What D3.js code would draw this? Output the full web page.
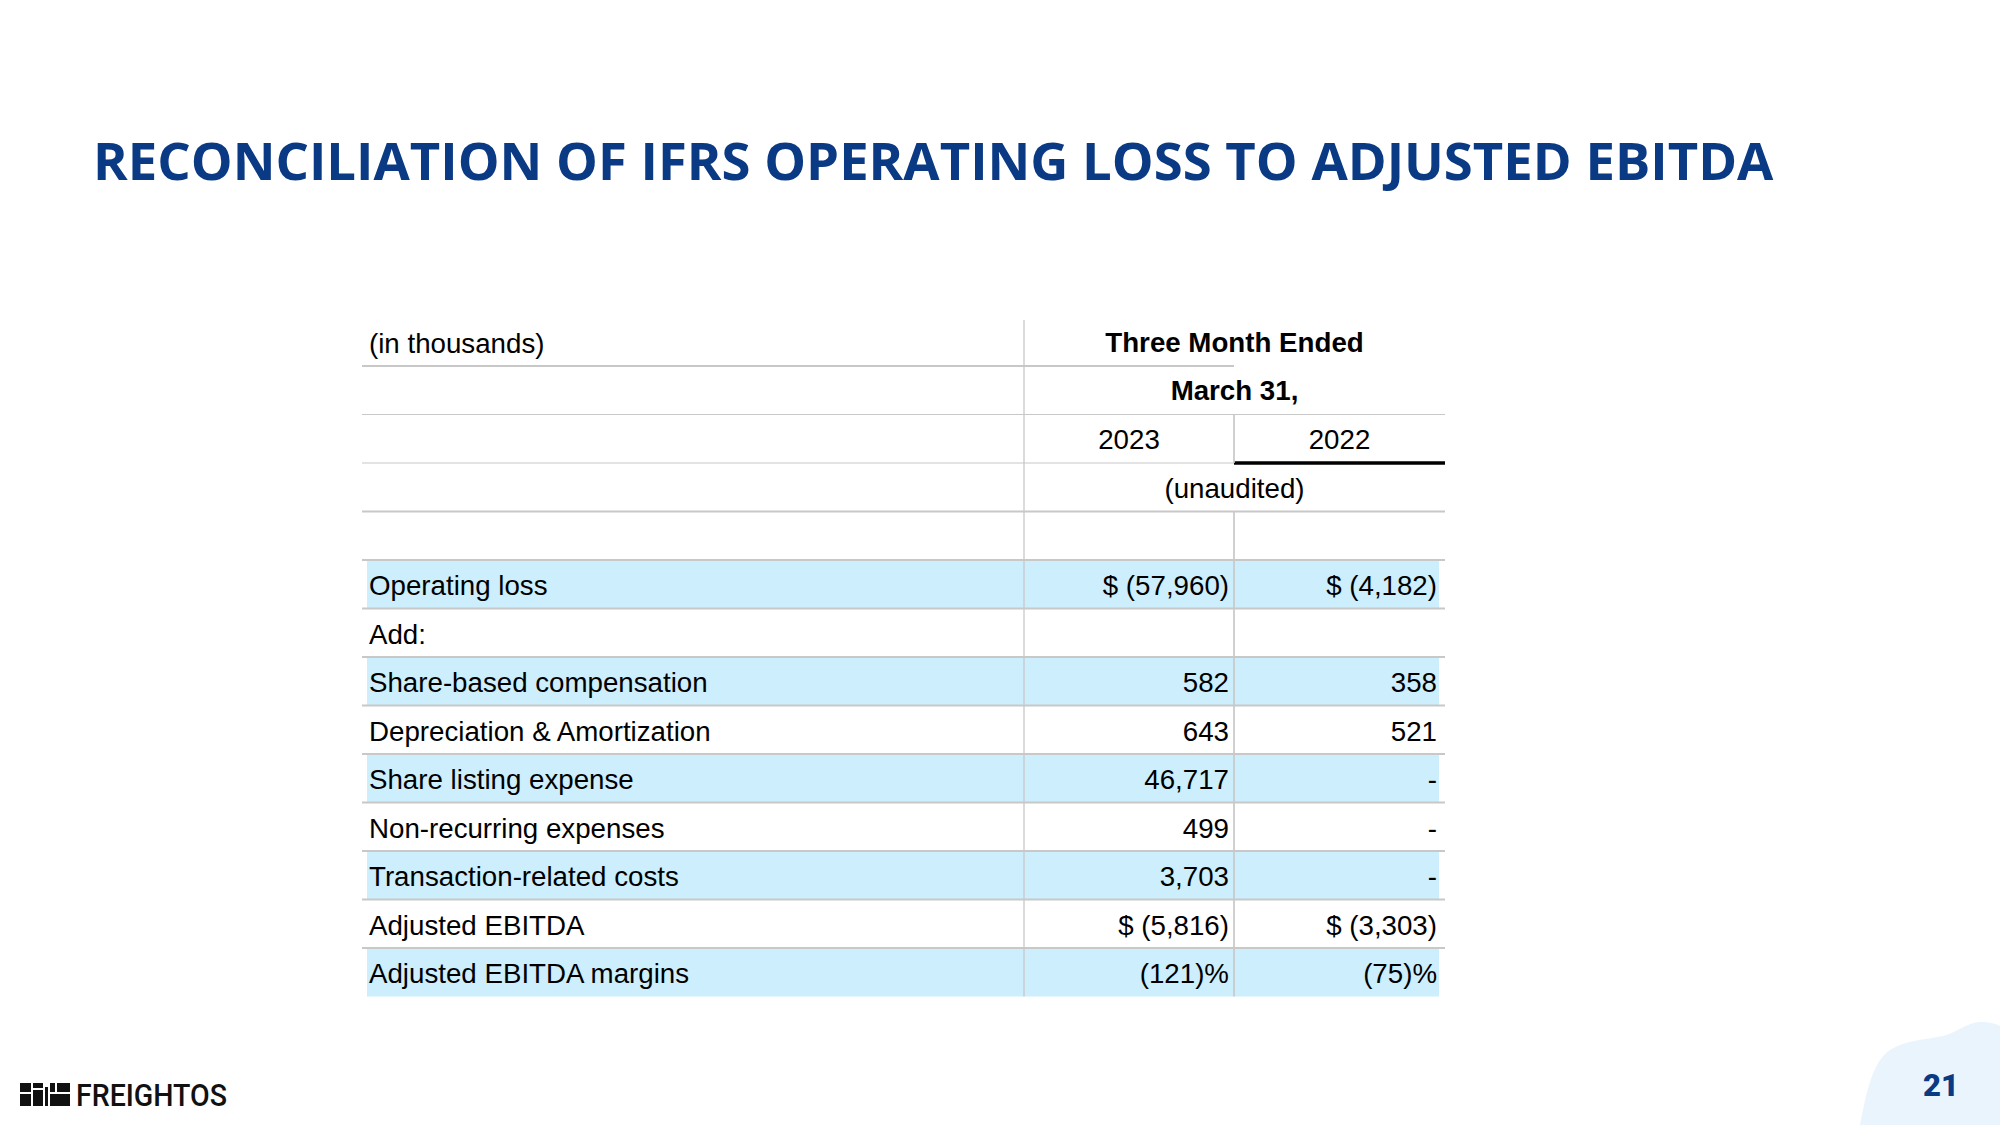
<!DOCTYPE html>
<html>
<head>
<meta charset="utf-8">
<script src="https://cdn.jsdelivr.net/npm/d3@7"></script>
<style>
  html, body { margin: 0; padding: 0; background: #ffffff; }
  svg { display: block; }
</style>
</head>
<body>
<svg id="chart" width="2000" height="1125"></svg>
<script>
// ---------- data ----------
const title = "RECONCILIATION OF IFRS OPERATING LOSS TO ADJUSTED EBITDA";
const unitLabel = "(in thousands)";
const periodHeader = ["Three Month Ended", "March 31,"];
const years = ["2023", "2022"];
const auditNote = "(unaudited)";
const items = [
  "Operating loss", "Add:", "Share-based compensation", "Depreciation & Amortization",
  "Share listing expense", "Non-recurring expenses", "Transaction-related costs",
  "Adjusted EBITDA", "Adjusted EBITDA margins"
];
const values2023 = ["$ (57,960)", "", "582", "643", "46,717", "499", "3,703", "$ (5,816)", "(121)%"];
const values2022 = ["$ (4,182)", "", "358", "521", "-", "-", "-", "$ (3,303)", "(75)%"];
const highlighted = [true, false, true, false, true, false, true, false, true];
const pageNumber = "21";
const brand = "FREIGHTOS";

// ---------- layout ----------
const svg = d3.select("#chart");
const W = 2000, H = 1125;
svg.append("rect").attr("width", W).attr("height", H).attr("fill", "#ffffff");

const headerRows = 5;
const nRows = headerRows + items.length;
const y = d3.scaleBand().domain(d3.range(nRows)).range([317.5, 996.5]).paddingInner(0).paddingOuter(0);
const colX = d3.scaleOrdinal().domain(["label", "c2023", "c2022", "end"]).range([362, 1024, 1234, 1445]);
const xL = colX("label"), x1 = colX("c2023"), x2 = colX("c2022"), xR = colX("end");
const rh = y.bandwidth();
const baseOff = 35;

const FONT = "'Liberation Sans', Arial, Helvetica, sans-serif";
const FS = 27.7;
const gridColor = "#c8c8c8";
const blue = "#cdeefd";

// title
const titleText = svg.append("text")
  .attr("x", 93).attr("y", 180)
  .attr("font-family", "'Open Sans', sans-serif")
  .attr("font-weight", 700)
  .attr("font-size", 56)
  .attr("fill", "#0b3a84")
  .text(title);
const tw = titleText.node().getComputedTextLength();
titleText.attr("font-size", 56 * 1681 / tw);

const table = svg.append("g");

// highlighted fills
const dataRows = items.map((d, i) => ({ label: d, v23: values2023[i], v22: values2022[i], hl: highlighted[i], row: headerRows + i }));
table.selectAll("rect.hl").data(dataRows.filter(d => d.hl)).join("rect")
  .attr("class", "hl")
  .attr("x", xL + 5).attr("width", (xR - 6) - (xL + 5))
  .attr("y", d => y(d.row)).attr("height", rh)
  .attr("fill", blue);

// horizontal lines
const hLines = [
  { r: 1, x0: xL, x1: x2, w: 2, c: gridColor },
  { r: 2, x0: xL, x1: xR, w: 1.2, c: gridColor },
  { r: 3, x0: xL, x1: x2, w: 1.2, c: gridColor },
  { r: 3, x0: x2, x1: xR, w: 3.5, c: "#000000" },
  { r: 4, x0: xL, x1: xR, w: 2, c: gridColor }
];
for (let r = 5; r <= nRows - 1; r++) hLines.push({ r: r, x0: xL, x1: xR, w: 1.8, c: gridColor });
table.selectAll("line.h").data(hLines).join("line")
  .attr("class", "h")
  .attr("x1", d => d.x0).attr("x2", d => d.x1)
  .attr("y1", d => y(d.r)).attr("y2", d => y(d.r))
  .attr("stroke", d => d.c).attr("stroke-width", d => d.w);

// vertical lines
const vLines = [
  { x: x1, ya: 320, yb: y(nRows - 1) + rh, w: 1.3 },
  { x: x2, ya: y(2), yb: y(3), w: 1.7 },
  { x: x2, ya: y(4), yb: y(nRows - 1) + rh, w: 1.7 }
];
table.selectAll("line.v").data(vLines).join("line")
  .attr("class", "v")
  .attr("x1", d => d.x).attr("x2", d => d.x)
  .attr("y1", d => d.ya).attr("y2", d => d.yb)
  .attr("stroke", gridColor).attr("stroke-width", d => d.w);

// header text
const txt = (g) => g.attr("font-family", FONT).attr("font-size", FS).attr("fill", "#000000");
table.append("text").call(txt)
  .attr("x", xL + 7).attr("y", y(0) + baseOff).text(unitLabel);
table.selectAll("text.period").data(periodHeader).join("text").call(txt)
  .attr("class", "period")
  .attr("x", (x1 + xR) / 2).attr("y", (d, i) => y(i) + baseOff - 1)
  .attr("text-anchor", "middle").attr("font-weight", 700)
  .text(d => d);
table.selectAll("text.year").data(years).join("text").call(txt)
  .attr("class", "year")
  .attr("x", (d, i) => i === 0 ? (x1 + x2) / 2 : (x2 + xR) / 2)
  .attr("y", y(2) + baseOff - 1)
  .attr("text-anchor", "middle")
  .text(d => d);
table.append("text").call(txt)
  .attr("x", (x1 + xR) / 2).attr("y", y(3) + baseOff)
  .attr("text-anchor", "middle").text(auditNote);

// body text
table.selectAll("text.lbl").data(dataRows).join("text").call(txt)
  .attr("class", "lbl")
  .attr("x", xL + 7).attr("y", d => y(d.row) + baseOff)
  .text(d => d.label);
table.selectAll("text.v23").data(dataRows).join("text").call(txt)
  .attr("class", "v23")
  .attr("x", x2 - 5).attr("y", d => y(d.row) + baseOff)
  .attr("text-anchor", "end")
  .text(d => d.v23);
table.selectAll("text.v22").data(dataRows).join("text").call(txt)
  .attr("class", "v22")
  .attr("x", xR - 8).attr("y", d => y(d.row) + baseOff)
  .attr("text-anchor", "end")
  .text(d => d.v22);

// bottom-right blob
svg.append("path")
  .attr("d", "M1860,1125 C1866,1095 1872,1062 1890,1050 C1905,1040 1925,1040 1943,1036 C1958,1032 1968,1022 1980,1022 C1990,1022 1996,1024 2000,1026 L2000,1125 Z")
  .attr("fill", "#eaf4fd");
svg.append("text")
  .attr("x", 1941).attr("y", 1096)
  .attr("text-anchor", "middle")
  .attr("font-family", "Roboto, 'Open Sans', sans-serif")
  .attr("font-weight", 900)
  .attr("font-size", 31)
  .attr("fill", "#0b3a84")
  .text(pageNumber);

// logo
const logo = svg.append("g").attr("fill", "#111111");
const blocks = [
  [20, 1083, 11, 9], [20, 1094, 11, 12],
  [33, 1083, 10, 5], [33, 1090, 10, 16],
  [45, 1087, 3, 19],
  [50, 1083, 5, 9], [57, 1083, 13, 9],
  [50, 1094, 20, 12]
];
logo.selectAll("rect").data(blocks).join("rect")
  .attr("x", d => d[0]).attr("y", d => d[1]).attr("width", d => d[2]).attr("height", d => d[3]);
svg.append("text")
  .attr("x", 76).attr("y", 1106)
  .attr("font-family", "Roboto, sans-serif")
  .attr("font-weight", 500)
  .attr("font-size", 32)
  .attr("textLength", 151)
  .attr("lengthAdjust", "spacingAndGlyphs")
  .attr("fill", "#111111")
  .text(brand);
</script>
</body>
</html>
